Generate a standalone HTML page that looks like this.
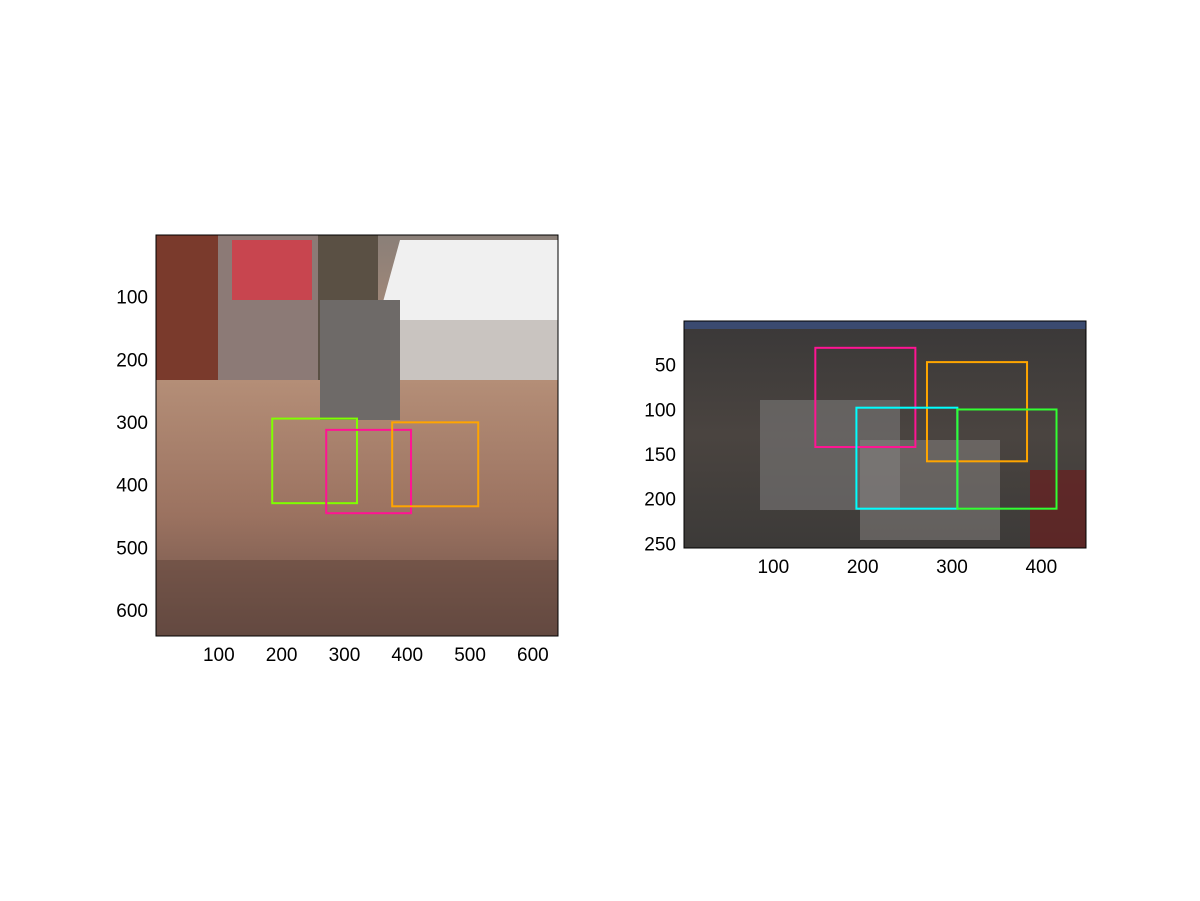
<!DOCTYPE html>
<html><head><meta charset="utf-8"><style>
html,body{margin:0;padding:0;background:#fff;}
svg{display:block;font-family:"Liberation Sans",sans-serif;}
</style></head><body>
<svg id="fig" width="1200" height="901" xmlns="http://www.w3.org/2000/svg">
<defs>
<linearGradient id="crowdL" x1="0" y1="0" x2="0" y2="1">
<stop offset="0" stop-color="#8a7f78"/><stop offset="0.35" stop-color="#b58f78"/><stop offset="0.7" stop-color="#9b7260"/><stop offset="1" stop-color="#6a5048"/>
</linearGradient>
<linearGradient id="crowdR" x1="0" y1="0" x2="0" y2="1">
<stop offset="0" stop-color="#3a3838"/><stop offset="0.5" stop-color="#4a4440"/><stop offset="1" stop-color="#3c3a38"/>
</linearGradient>
</defs>
<g id="img1">
<rect x="156" y="235" width="402" height="401" fill="url(#crowdL)"/>
<rect x="156" y="235" width="62" height="145" fill="#7a3a2c"/>
<rect x="218" y="235" width="100" height="145" fill="#8c7a76"/>
<rect x="232" y="240" width="80" height="60" fill="#c8454f"/>
<rect x="318" y="235" width="60" height="145" fill="#5a5044"/>
<polygon points="378,320 400,240 558,240 558,320" fill="#f0f0f0"/>
<rect x="378" y="320" width="180" height="60" fill="#c9c4c0"/>
<rect x="320" y="300" width="80" height="120" fill="#6e6a68"/>
<rect x="156" y="560" width="402" height="76" fill="#5a4038" opacity="0.45"/>
</g>
<g id="img2">
<rect x="684" y="321" width="402" height="227" fill="url(#crowdR)"/>
<rect x="684" y="321" width="402" height="8" fill="#3a4a70"/>
<rect x="760" y="400" width="140" height="110" fill="#7a7878" opacity="0.6"/>
<rect x="860" y="440" width="140" height="100" fill="#8a8684" opacity="0.5"/>
<rect x="1030" y="470" width="56" height="78" fill="#6a2020" opacity="0.7"/>
</g>
<g id="boxes"></g>
<g id="axes"></g>
</svg>
<script>
const leftBoxes = [[185,320,293,428],[271,406,311,444],[376,513,299,433]];
const leftColors = ["#7fff00","#ff1493","#ffa500"];
const leftNames = ["box-green","box-magenta","box-orange"];
const rightBoxes = [[147,259,30,141],[272,384,46,157],[193,306,97,210],[306,417,99,210]];
const rightColors = ["#ff1493","#ffa500","#00ffff","#32ff32"];
const rightNames = ["box-magenta","box-orange","box-cyan","box-green"];
const leftXTicks = [100,200,300,400,500,600];
const leftYTicks = [100,200,300,400,500,600];
const rightXTicks = [100,200,300,400];
const rightYTicks = [50,100,150,200,250];
const NS="http://www.w3.org/2000/svg";
const bg=document.getElementById('boxes'), ag=document.getElementById('axes');
function mk(t,a,p){const e=document.createElementNS(NS,t);for(const k in a)e.setAttribute(k,a[k]);p.appendChild(e);return e;}
function panel(px,py,pw,ph,W,H,boxes,cols,names,xt,yt,pref){
  const sx=v=>px+v*pw/W, sy=v=>py+v*ph/H;
  boxes.forEach((b,i)=>{
    const r=mk('rect',{x:sx(b[0]),y:sy(b[2]),width:sx(b[1])-sx(b[0]),height:sy(b[3])-sy(b[2]),fill:'none',stroke:cols[i],'stroke-width':2},bg);
    
    
  });
  const f=mk('rect',{x:px,y:py,width:pw,height:ph,fill:'none',stroke:'#000','stroke-width':1},ag);
  
  
  xt.forEach(v=>{
    const t=mk('text',{x:sx(v),y:py+ph+25,'text-anchor':'middle','font-size':19,fill:'#000'},ag);
    t.textContent=v;
    
    
  });
  yt.forEach(v=>{
    const t=mk('text',{x:px-8,y:sy(v)+6,'text-anchor':'end','font-size':19,fill:'#000'},ag);
    t.textContent=v;
    
    
  });
}
panel(156,235,402,401,640,640,leftBoxes,leftColors,leftNames,leftXTicks,leftYTicks,'left');
panel(684,321,402,227,450,254,rightBoxes,rightColors,rightNames,rightXTicks,rightYTicks,'right');
</script>
</body></html>
